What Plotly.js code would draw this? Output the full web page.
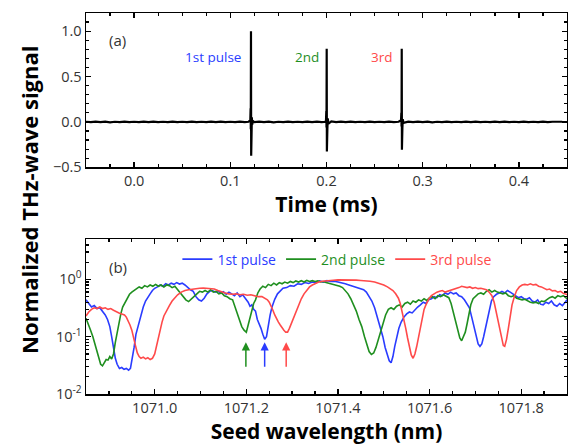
<!DOCTYPE html>
<html>
<head>
<meta charset="utf-8">
<script src="https://cdn.plot.ly/plotly-3.0.1.min.js"></script>
<style>html,body{margin:0;padding:0;background:#fff;}#plot{width:568px;height:445px;}</style>
</head>
<body>
<div id="plot"></div>
<script>
// ---- Panel (a): time trace ----
const timeMs = [-0.05,-0.045,-0.04,-0.035,-0.03,-0.025,-0.02,-0.015,-0.01,-0.005,0,0.005,0.01,0.015,0.02,0.025,0.03,0.035,0.04,0.045,0.05,0.055,0.06,0.065,0.07,0.075,0.08,0.085,0.09,0.095,0.1,0.105,0.11,0.115,0.119,
0.1208,0.1211,0.1213,0.1215,0.1217,0.1219,0.1221,0.1224,0.1228,0.1235,0.125,0.13,0.135,0.14,0.145,0.15,0.155,0.16,0.165,0.17,0.175,0.18,0.185,0.19,0.195,0.199,
0.1995,0.1998,0.2000,0.2002,0.2004,0.2006,0.2009,0.2013,0.202,0.205,0.21,0.215,0.22,0.225,0.23,0.235,0.24,0.245,0.25,0.255,0.26,0.265,0.27,0.275,
0.2775,0.2778,0.2780,0.2782,0.2784,0.2786,0.2789,0.2793,0.28,0.285,0.29,0.295,0.3,0.305,0.31,0.315,0.32,0.325,0.33,0.335,0.34,0.345,0.35,0.355,0.36,0.365,0.37,0.375,0.38,0.385,0.39,0.395,0.4,0.405,0.41,0.415,0.42,0.425,0.43,0.435,0.44,0.445,0.45];
const signal = [0.002,-0.003,0.004,-0.002,0.003,-0.004,0.002,-0.002,0.003,-0.003,0.002,-0.003,0.003,-0.002,0.004,-0.002,0.002,-0.003,0.003,-0.002,0.002,-0.003,0.004,-0.002,0.002,-0.003,0.003,-0.002,0.003,-0.003,0.002,-0.002,0.004,-0.002,0.002,
0.02,0.15,-0.08,1.0,-0.372,0.12,-0.1,0.05,-0.03,0.01,-0.003,0.003,-0.002,0.003,-0.004,0.002,-0.002,0.003,-0.002,0.002,-0.003,0.003,-0.002,0.004,-0.002,0.002,
0.02,0.12,-0.06,0.807,-0.325,0.1,-0.08,0.04,-0.02,0.006,-0.002,0.003,-0.002,0.003,-0.003,0.002,-0.002,0.003,-0.003,0.002,-0.002,0.004,-0.002,0.002,
0.02,0.1,-0.05,0.807,-0.307,0.09,-0.06,0.03,-0.01,0.003,-0.003,0.003,-0.002,0.003,-0.004,0.002,-0.002,0.003,-0.002,0.002,-0.003,0.003,-0.002,0.004,-0.002,0.002,-0.003,0.003,-0.002,0.003,-0.002,0.002,-0.003,0.003,-0.002,0.002,-0.003,0.003,-0.002,0.002,-0.002,0.002];

// ---- Panel (b): wavelength scans ----
const wl1 = [1070.85,1070.856,1070.862,1070.868,1070.874,1070.88,1070.886,1070.892,1070.897,1070.902,1070.906,1070.91,1070.914,1070.918,1070.923,1070.928,1070.933,1070.938,1070.943,1070.947,1070.951,1070.955,1070.959,1070.964,1070.969,1070.975,1070.98,1070.985,1070.99,1070.995,1071.0,1071.006,1071.012,1071.018,1071.024,1071.03,1071.036,1071.042,1071.048,1071.054,1071.06,1071.066,1071.072,1071.078,1071.084,1071.09,1071.096,1071.102,1071.108,1071.114,1071.12,1071.126,1071.132,1071.138,1071.144,1071.15,1071.156,1071.162,1071.168,1071.174,1071.18,1071.186,1071.192,1071.198,1071.204,1071.208,1071.212,1071.216,1071.22,1071.224,1071.228,1071.232,1071.236,1071.24,1071.244,1071.248,1071.252,1071.256,1071.262,1071.268,1071.274,1071.28,1071.288,1071.296,1071.304,1071.312,1071.32,1071.328,1071.336,1071.344,1071.352,1071.36,1071.368,1071.376,1071.384,1071.392,1071.4,1071.408,1071.416,1071.424,1071.432,1071.44,1071.448,1071.456,1071.462,1071.468,1071.474,1071.48,1071.486,1071.492,1071.498,1071.503,1071.508,1071.512,1071.516,1071.52,1071.524,1071.528,1071.533,1071.538,1071.544,1071.55,1071.556,1071.562,1071.568,1071.574,1071.58,1071.586,1071.592,1071.598,1071.604,1071.61,1071.616,1071.622,1071.628,1071.634,1071.64,1071.646,1071.652,1071.658,1071.664,1071.67,1071.676,1071.682,1071.687,1071.692,1071.697,1071.702,1071.706,1071.71,1071.714,1071.718,1071.722,1071.726,1071.73,1071.735,1071.74,1071.746,1071.752,1071.758,1071.764,1071.77,1071.776,1071.782,1071.788,1071.794,1071.8,1071.806,1071.812,1071.818,1071.824,1071.83,1071.836,1071.842,1071.848,1071.854,1071.86,1071.866,1071.872,1071.878,1071.884,1071.89,1071.896,1071.9];
const pulse1 = [0.44,0.38,0.33,0.35,0.31,0.32,0.28,0.24,0.2,0.15,0.1,0.065,0.042,0.033,0.028,0.029,0.027,0.028,0.026,0.028,0.04,0.065,0.11,0.16,0.22,0.33,0.42,0.5,0.56,0.64,0.7,0.74,0.8,0.76,0.84,0.8,0.86,0.82,0.88,0.83,0.86,0.8,0.72,0.66,0.62,0.5,0.44,0.42,0.47,0.56,0.62,0.64,0.6,0.63,0.58,0.61,0.55,0.6,0.56,0.52,0.58,0.5,0.54,0.46,0.4,0.34,0.36,0.3,0.28,0.2,0.17,0.14,0.11,0.09,0.1,0.16,0.24,0.33,0.45,0.56,0.64,0.7,0.72,0.78,0.76,0.84,0.82,0.88,0.85,0.9,0.88,0.94,0.9,0.95,0.92,0.93,0.9,0.88,0.84,0.8,0.76,0.72,0.7,0.66,0.6,0.5,0.42,0.32,0.22,0.16,0.1,0.065,0.05,0.038,0.035,0.045,0.068,0.1,0.14,0.18,0.22,0.25,0.27,0.26,0.3,0.33,0.36,0.4,0.38,0.44,0.46,0.5,0.48,0.54,0.52,0.58,0.55,0.6,0.56,0.58,0.52,0.5,0.44,0.38,0.32,0.22,0.15,0.1,0.075,0.068,0.075,0.1,0.14,0.21,0.3,0.42,0.5,0.55,0.58,0.62,0.58,0.64,0.6,0.56,0.52,0.48,0.5,0.46,0.45,0.48,0.42,0.4,0.44,0.37,0.36,0.4,0.38,0.42,0.36,0.34,0.38,0.35,0.4,0.44];

const wl2 = [1070.85,1070.855,1070.86,1070.865,1070.87,1070.874,1070.878,1070.882,1070.886,1070.89,1070.894,1070.898,1070.902,1070.906,1070.91,1070.914,1070.918,1070.922,1070.926,1070.93,1070.935,1070.94,1070.945,1070.95,1070.955,1070.96,1070.966,1070.972,1070.978,1070.984,1070.99,1070.996,1071.002,1071.008,1071.014,1071.02,1071.026,1071.032,1071.038,1071.044,1071.05,1071.056,1071.062,1071.068,1071.074,1071.08,1071.086,1071.092,1071.098,1071.104,1071.11,1071.116,1071.122,1071.128,1071.134,1071.14,1071.146,1071.152,1071.158,1071.164,1071.17,1071.175,1071.18,1071.185,1071.19,1071.195,1071.2,1071.204,1071.208,1071.212,1071.216,1071.22,1071.225,1071.23,1071.236,1071.242,1071.248,1071.254,1071.26,1071.266,1071.272,1071.278,1071.284,1071.29,1071.296,1071.302,1071.308,1071.314,1071.32,1071.326,1071.332,1071.338,1071.344,1071.35,1071.356,1071.362,1071.368,1071.374,1071.38,1071.386,1071.392,1071.398,1071.404,1071.41,1071.416,1071.422,1071.428,1071.434,1071.44,1071.446,1071.452,1071.458,1071.463,1071.468,1071.473,1071.478,1071.483,1071.488,1071.493,1071.498,1071.504,1071.51,1071.516,1071.522,1071.528,1071.534,1071.54,1071.546,1071.552,1071.558,1071.564,1071.57,1071.576,1071.582,1071.588,1071.594,1071.6,1071.606,1071.612,1071.618,1071.624,1071.63,1071.636,1071.642,1071.647,1071.652,1071.657,1071.662,1071.666,1071.67,1071.674,1071.678,1071.682,1071.686,1071.69,1071.695,1071.7,1071.706,1071.712,1071.718,1071.724,1071.73,1071.736,1071.742,1071.748,1071.754,1071.76,1071.766,1071.772,1071.778,1071.784,1071.79,1071.796,1071.802,1071.808,1071.814,1071.82,1071.826,1071.832,1071.838,1071.844,1071.85,1071.856,1071.862,1071.868,1071.874,1071.88,1071.886,1071.892,1071.898,1071.9];
const pulse2 = [0.21,0.17,0.13,0.1,0.07,0.052,0.04,0.033,0.031,0.036,0.04,0.039,0.045,0.041,0.05,0.08,0.12,0.18,0.25,0.33,0.4,0.48,0.55,0.6,0.64,0.7,0.74,0.7,0.78,0.74,0.8,0.76,0.82,0.76,0.8,0.74,0.8,0.78,0.72,0.76,0.66,0.6,0.5,0.44,0.41,0.46,0.5,0.56,0.62,0.6,0.64,0.6,0.66,0.6,0.62,0.56,0.58,0.52,0.5,0.46,0.44,0.34,0.26,0.19,0.15,0.13,0.12,0.16,0.22,0.3,0.38,0.44,0.58,0.68,0.76,0.72,0.82,0.78,0.86,0.8,0.88,0.84,0.9,0.86,0.92,0.88,0.94,0.9,0.95,0.9,0.96,0.92,0.95,0.92,0.94,0.9,0.92,0.88,0.86,0.84,0.82,0.8,0.76,0.72,0.64,0.56,0.46,0.36,0.28,0.2,0.15,0.1,0.07,0.055,0.049,0.052,0.065,0.09,0.13,0.18,0.24,0.3,0.32,0.3,0.34,0.36,0.33,0.38,0.4,0.37,0.42,0.4,0.44,0.42,0.46,0.43,0.48,0.5,0.46,0.52,0.5,0.54,0.5,0.48,0.38,0.26,0.17,0.12,0.095,0.085,0.1,0.12,0.17,0.26,0.36,0.46,0.5,0.56,0.58,0.55,0.62,0.66,0.6,0.64,0.6,0.58,0.56,0.58,0.52,0.5,0.52,0.47,0.46,0.44,0.45,0.42,0.4,0.39,0.4,0.38,0.42,0.41,0.45,0.48,0.5,0.47,0.52,0.5,0.52,0.48,0.46];

const wl3 = [1070.85,1070.856,1070.862,1070.868,1070.874,1070.88,1070.886,1070.892,1070.898,1070.904,1070.91,1070.916,1070.922,1070.928,1070.934,1070.938,1070.942,1070.946,1070.95,1070.954,1070.958,1070.962,1070.966,1070.97,1070.975,1070.98,1070.985,1070.99,1070.995,1071.0,1071.004,1071.008,1071.012,1071.016,1071.02,1071.026,1071.032,1071.038,1071.044,1071.05,1071.058,1071.066,1071.074,1071.082,1071.09,1071.098,1071.106,1071.114,1071.122,1071.13,1071.138,1071.146,1071.154,1071.162,1071.17,1071.178,1071.186,1071.194,1071.202,1071.21,1071.218,1071.226,1071.234,1071.24,1071.246,1071.25,1071.254,1071.258,1071.262,1071.266,1071.27,1071.274,1071.278,1071.282,1071.286,1071.29,1071.294,1071.298,1071.302,1071.306,1071.31,1071.315,1071.32,1071.326,1071.332,1071.338,1071.344,1071.35,1071.358,1071.366,1071.374,1071.382,1071.39,1071.4,1071.41,1071.42,1071.43,1071.44,1071.45,1071.46,1071.47,1071.48,1071.49,1071.5,1071.508,1071.514,1071.52,1071.526,1071.532,1071.536,1071.54,1071.544,1071.548,1071.552,1071.556,1071.56,1071.564,1071.568,1071.572,1071.576,1071.58,1071.584,1071.588,1071.592,1071.598,1071.604,1071.61,1071.616,1071.622,1071.628,1071.634,1071.64,1071.646,1071.652,1071.658,1071.664,1071.67,1071.676,1071.682,1071.688,1071.694,1071.7,1071.706,1071.712,1071.718,1071.724,1071.73,1071.736,1071.741,1071.745,1071.749,1071.753,1071.757,1071.761,1071.764,1071.768,1071.772,1071.776,1071.78,1071.785,1071.79,1071.796,1071.802,1071.808,1071.814,1071.82,1071.826,1071.832,1071.838,1071.844,1071.85,1071.856,1071.862,1071.868,1071.874,1071.88,1071.886,1071.892,1071.898,1071.9];
const pulse3 = [0.23,0.27,0.3,0.32,0.31,0.33,0.31,0.32,0.3,0.31,0.29,0.27,0.26,0.25,0.24,0.22,0.19,0.16,0.13,0.1,0.07,0.052,0.045,0.042,0.044,0.041,0.043,0.04,0.042,0.05,0.07,0.1,0.14,0.18,0.23,0.29,0.35,0.42,0.48,0.54,0.6,0.64,0.66,0.68,0.7,0.7,0.71,0.7,0.69,0.68,0.64,0.6,0.58,0.56,0.55,0.56,0.54,0.55,0.53,0.54,0.52,0.5,0.5,0.47,0.44,0.4,0.35,0.29,0.24,0.2,0.18,0.16,0.14,0.13,0.12,0.12,0.14,0.17,0.2,0.25,0.3,0.38,0.46,0.56,0.66,0.74,0.8,0.85,0.9,0.93,0.95,0.96,0.97,0.98,0.98,0.99,0.98,0.97,0.96,0.95,0.93,0.9,0.86,0.8,0.74,0.68,0.64,0.56,0.47,0.38,0.28,0.2,0.14,0.095,0.065,0.048,0.042,0.05,0.068,0.1,0.15,0.22,0.3,0.36,0.45,0.52,0.56,0.6,0.62,0.64,0.6,0.62,0.64,0.66,0.7,0.72,0.76,0.74,0.72,0.74,0.7,0.72,0.69,0.7,0.68,0.66,0.6,0.52,0.4,0.28,0.19,0.13,0.09,0.07,0.068,0.09,0.14,0.22,0.36,0.5,0.64,0.74,0.8,0.82,0.8,0.84,0.8,0.82,0.76,0.74,0.7,0.66,0.68,0.63,0.64,0.6,0.62,0.57,0.55,0.54];

const seriesNames = ['1st pulse','2nd pulse','3rd pulse'];
const seriesColors = ['#2a3cff','#1f8f1f','#ff4a4a'];
const arrowWl = [1071.199, 1071.24, 1071.287];
const arrowColors = ['#1f8f1f','#2a3cff','#ff4a4a'];
const pulseLabels = ['1st pulse','2nd','3rd'];
const pulseLabelT = [0.082, 0.18, 0.258];

const FONT = 'Open Sans, Noto Sans, sans-serif';
const traces = [
  {x: timeMs, y: signal, xaxis:'x', yaxis:'y', mode:'lines', line:{color:'#000', width:2.2}, showlegend:false}
];
const wls = [wl1, wl2, wl3];
const ps = [pulse1, pulse2, pulse3];
for (let i = 0; i < 3; i++) {
  traces.push({x: wls[i], y: ps[i], xaxis:'x2', yaxis:'y2', mode:'lines',
    name: '<span style="color:' + seriesColors[i] + '">' + seriesNames[i] + '</span>',
    line:{color: seriesColors[i], width:1.6}});
}

const axCommon = {showline:true, linecolor:'#000', linewidth:1.5, mirror:'allticks', ticks:'inside', ticklen:5, tickwidth:1.3, tickcolor:'#000',
  showgrid:false, zeroline:false, tickfont:{family:FONT, size:14.5, color:'#333'}};

const annotations = [
  {xref:'x', yref:'y', x:-0.0175, y:0.9, text:'(a)', showarrow:false, font:{family:FONT, size:15, color:'#333'}},
  {xref:'x2', yref:'y2', x:1070.919, y:0.22, text:'(b)', showarrow:false, font:{family:FONT, size:15, color:'#333'}},
  {xref:'paper', yref:'paper', x:-0.12, y:0.51, xanchor:'center', yanchor:'middle', text:'<b>Normalized THz-wave signal</b>', textangle:-90, showarrow:false, font:{family:FONT, size:22, color:'#000'}}
];
for (let i = 0; i < 3; i++) {
  annotations.push({xref:'x', yref:'y', x:pulseLabelT[i], y:0.71, text:pulseLabels[i], showarrow:false, font:{family:FONT, size:13.5, color:seriesColors[i]}});
  annotations.push({xref:'x2', yref:'y2', x:arrowWl[i], y:Math.log10(0.08), text:'', showarrow:true, arrowhead:2, arrowsize:1.1, arrowwidth:1.5,
    arrowcolor:arrowColors[i], ax:0, ay:26, standoff:0});
}

const layout = {
  width:568, height:445, paper_bgcolor:'#fff', plot_bgcolor:'#fff',
  margin:{l:86, r:1, t:13, b:51},
  font:{family:FONT, color:'#000'},
  xaxis: Object.assign({}, axCommon, {domain:[0,1], anchor:'y', range:[-0.05,0.45], tick0:0, dtick:0.1, tickformat:'.1f',
    minor:{dtick:0.025, tick0:0, ticks:'inside', ticklen:3, tickcolor:'#000'},
    title:{text:'<b>Time (ms)</b>', font:{family:FONT, size:21, color:'#000'}, standoff:6}}),
  yaxis: Object.assign({}, axCommon, {domain:[0.595,1], anchor:'x', range:[-0.5,1.2], tick0:0, dtick:0.5, tickformat:'.1f',
    minor:{dtick:0.1, tick0:0, ticks:'inside', ticklen:3, tickcolor:'#000'}}),
  xaxis2: Object.assign({}, axCommon, {domain:[0,1], anchor:'y2', range:[1070.85,1071.9], tick0:1071.0, dtick:0.2, tickformat:'.1f',
    minor:{dtick:0.05, tick0:1071.0, ticks:'inside', ticklen:3, tickcolor:'#000'},
    title:{text:'<b>Seed wavelength (nm)</b>', font:{family:FONT, size:21, color:'#000'}, standoff:8}}),
  yaxis2: Object.assign({}, axCommon, {domain:[0,0.406], anchor:'x2', type:'log', range:[-2,0.7],
    tickvals:[0.01,0.1,1], ticktext:['10<sup>-2</sup>','10<sup>-1</sup>','10<sup>0</sup>'],
    minor:{dtick:'D1', ticks:'inside', ticklen:3, tickcolor:'#000'}}),
  legend:{orientation:'h', x:0.19, y:0.353, xanchor:'left', yanchor:'middle', bgcolor:'rgba(0,0,0,0)',
    font:{family:FONT, size:14}, itemwidth:30, tracegroupgap:0},
  annotations: annotations,
  showlegend:true
};

Plotly.newPlot('plot', traces, layout, {staticPlot:true, displayModeBar:false});
</script>
</body>
</html>
